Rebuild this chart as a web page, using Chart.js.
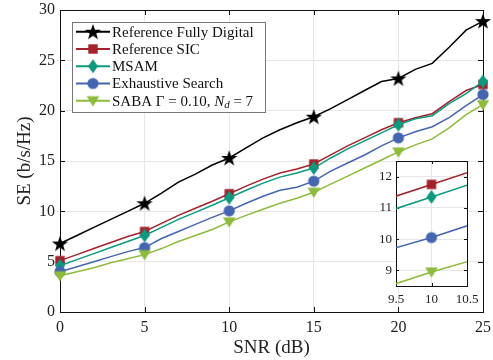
<!DOCTYPE html>
<html>
<head>
<meta charset="utf-8">
<script src="https://cdn.jsdelivr.net/npm/chart.js@4"></script>
<style>
  html, body { margin: 0; padding: 0; background: #fff; }
  #wrap { position: relative; width: 493px; height: 360px; }
  #mainChart { position: absolute; left: 0; top: 0; }
  #insetChart { position: absolute; left: 365px; top: 150px; }
</style>
</head>
<body>
<div id="wrap">
  <canvas id="mainChart" width="493" height="360"></canvas>
  <canvas id="insetChart" width="128" height="175"></canvas>
</div>
<script>
// SNR values (dB)
const snr = [0, 1, 2, 3, 4, 5, 6, 7, 8, 9, 10, 11, 12, 13, 14, 15, 16, 17, 18, 19, 20, 21, 22, 23, 24, 25];

// spectral efficiency per scheme (b/s/Hz)
const fullyDigital = [6.8, 7.6, 8.4, 9.2, 10.0, 10.8, 11.8, 12.9, 13.7, 14.6, 15.3, 16.3, 17.3, 18.1, 18.8, 19.4, 20.2, 21.1, 22.0, 22.9, 23.2, 24.1, 24.7, 26.3, 28.0, 28.9];
const refSIC = [5.1, 5.7, 6.3, 6.9, 7.5, 8.0, 8.8, 9.6, 10.3, 11.0, 11.75, 12.5, 13.2, 13.8, 14.2, 14.7, 15.6, 16.5, 17.3, 18.1, 18.8, 19.3, 19.7, 20.9, 22.0, 22.6];
const msam = [4.6, 5.2, 5.8, 6.4, 7.0, 7.6, 8.4, 9.2, 9.9, 10.6, 11.35, 12.1, 12.8, 13.4, 13.8, 14.3, 15.3, 16.2, 17.0, 17.8, 18.6, 19.2, 19.5, 20.7, 21.7, 22.9];
const exhaustive = [4.0, 4.5, 5.0, 5.5, 6.0, 6.4, 7.3, 8.0, 8.7, 9.4, 10.05, 10.8, 11.5, 12.1, 12.4, 13.0, 14.0, 14.8, 15.6, 16.5, 17.3, 17.9, 18.4, 19.3, 20.5, 21.6];
const saba = [3.6, 4.0, 4.4, 4.9, 5.3, 5.7, 6.3, 7.0, 7.6, 8.2, 8.95, 9.6, 10.2, 10.8, 11.3, 11.9, 12.7, 13.5, 14.3, 15.1, 15.9, 16.6, 17.2, 18.3, 19.6, 20.6];

const xTicks = [0, 5, 10, 15, 20, 25];
const yTicks = [0, 5, 10, 15, 20, 25, 30];
const insetXTicks = [9.5, 10, 10.5];
const insetYTicks = [9, 10, 11, 12];

const FONT = '"Liberation Serif", "DejaVu Serif", serif';

// marker images
function makeMarker(kind, color) {
  const c = document.createElement('canvas');
  const s = kind === 'star' ? 18 : 16;
  c.width = s; c.height = s;
  const g = c.getContext('2d');
  g.fillStyle = color;
  const m = s / 2;
  g.beginPath();
  if (kind === 'star') {
    const ro = 8.5, ri = 3.4;
    for (let i = 0; i < 10; i++) {
      const r = i % 2 === 0 ? ro : ri;
      const a = -Math.PI / 2 + i * Math.PI / 5;
      const px = m + r * Math.cos(a), py = m + 0.7 + r * Math.sin(a);
      if (i === 0) g.moveTo(px, py); else g.lineTo(px, py);
    }
  } else if (kind === 'square') {
    g.rect(m - 4.7, m - 4.7, 9.4, 9.4);
  } else if (kind === 'diamond') {
    g.moveTo(m, m - 7); g.lineTo(m + 5, m); g.lineTo(m, m + 7); g.lineTo(m - 5, m);
  } else if (kind === 'circle') {
    g.arc(m, m, 5.6, 0, Math.PI * 2);
  } else if (kind === 'triangle') {
    g.moveTo(m - 6.3, m - 4.5); g.lineTo(m + 6.3, m - 4.5); g.lineTo(m, m + 5.8);
  }
  g.closePath();
  g.fill();
  return c;
}

const series = [
  { label: 'Reference Fully Digital', values: fullyDigital, color: '#000000', marker: 'star' },
  { label: 'Reference SIC', values: refSIC, color: '#A3222B', marker: 'square' },
  { label: 'MSAM', values: msam, color: '#0B9A7E', marker: 'diamond' },
  { label: 'Exhaustive Search', values: exhaustive, color: '#4466B1', marker: 'circle' },
  { label: 'SABA', values: saba, color: '#8DBB3C', marker: 'triangle' }
];
series.forEach(s => { s.img = makeMarker(s.marker, s.color); });

function buildDatasets(clip) {
  return series.map(s => ({
    label: s.label,
    data: snr.map((x, i) => ({ x: x, y: s.values[i] })),
    borderColor: s.color,
    backgroundColor: s.color,
    borderWidth: 1.5,
    tension: 0,
    pointStyle: s.img,
    pointRadius: ctx => (ctx.raw && ctx.raw.x % 5 === 0 ? 5 : 0),
    clip: clip
  })).reverse();
}

// white plot area, black box and inward tick marks
const framePlugin = {
  id: 'frame',
  beforeDraw(chart) {
    const a = chart.chartArea, ctx = chart.ctx;
    ctx.save();
    ctx.fillStyle = '#ffffff';
    ctx.fillRect(a.left, a.top, a.right - a.left, a.bottom - a.top);
    ctx.restore();
  },
  beforeDatasetsDraw(chart, args, opts) {
    const a = chart.chartArea, ctx = chart.ctx;
    const len = opts.tickLen || 5;
    ctx.save();
    ctx.strokeStyle = '#111';
    ctx.lineWidth = 1;
    ctx.beginPath();
    chart.scales.x.ticks.forEach(t => {
      const px = Math.round(chart.scales.x.getPixelForValue(t.value)) + 0.5;
      ctx.moveTo(px, a.bottom); ctx.lineTo(px, a.bottom - len);
      ctx.moveTo(px, a.top); ctx.lineTo(px, a.top + len);
    });
    chart.scales.y.ticks.forEach(t => {
      const py = Math.round(chart.scales.y.getPixelForValue(t.value)) + 0.5;
      ctx.moveTo(a.left, py); ctx.lineTo(a.left + len, py);
      ctx.moveTo(a.right, py); ctx.lineTo(a.right - len, py);
    });
    ctx.stroke();
    ctx.strokeRect(Math.round(a.left) + 0.5, Math.round(a.top) + 0.5,
      Math.round(a.right - a.left), Math.round(a.bottom - a.top));
    ctx.restore();
  }
};

// legend box in the upper left corner
const legendPlugin = {
  id: 'boxLegend',
  afterDraw(chart) {
    const ctx = chart.ctx;
    const bx = 72, by = 22, bw = 193, bh = 90;
    ctx.save();
    ctx.fillStyle = '#fff';
    ctx.fillRect(bx, by, bw, bh);
    ctx.strokeStyle = '#777';
    ctx.lineWidth = 1;
    ctx.strokeRect(bx + 0.5, by + 0.5, bw, bh);
    series.forEach((s, i) => {
      const y = 31.7 + i * 17.25;
      ctx.strokeStyle = s.color;
      ctx.lineWidth = 2;
      ctx.beginPath();
      ctx.moveTo(76, y); ctx.lineTo(110, y);
      ctx.stroke();
      ctx.drawImage(s.img, 93 - s.img.width / 2, y - s.img.height / 2);
      ctx.fillStyle = '#111';
      ctx.textBaseline = 'middle';
      let x = 112;
      if (i < 4) {
        ctx.font = '15px ' + FONT;
        ctx.fillText(s.label, x, y + 1);
      } else {
        const parts = [
          ['SABA \u0393 = 0.10, ', '15px ' + FONT, 0],
          ['N', 'italic 15px ' + FONT, 0],
          ['d', 'italic 11px ' + FONT, 3],
          [' = 7', '15px ' + FONT, 0]
        ];
        parts.forEach(p => {
          ctx.font = p[1];
          ctx.fillText(p[0], x, y + 1 + p[2]);
          x += ctx.measureText(p[0]).width;
        });
      }
    });
    ctx.restore();
  }
};

const gridColor = '#e6e6e6';

new Chart(document.getElementById('mainChart').getContext('2d'), {
  type: 'line',
  data: { datasets: buildDatasets(false) },
  options: {
    responsive: false,
    animation: false,
    events: [],
    layout: { padding: { top: 10, right: 10, left: 0, bottom: 0 } },
    plugins: { legend: { display: false }, tooltip: { enabled: false }, frame: { tickLen: 5 } },
    scales: {
      x: {
        type: 'linear', min: 0, max: 25,
        afterBuildTicks: sc => { sc.ticks = xTicks.map(v => ({ value: v })); },
        afterFit: sc => { sc.height = 48; sc.paddingLeft = 0; sc.paddingRight = 0; },
        grid: { color: gridColor, drawTicks: false },
        border: { display: false },
        ticks: { color: '#222', font: { family: FONT, size: 16 }, padding: 6, maxRotation: 0 },
        title: { display: true, text: 'SNR (dB)', color: '#222', font: { family: FONT, size: 19 }, padding: { top: 0, bottom: 1 } }
      },
      y: {
        min: 0, max: 30,
        afterBuildTicks: sc => { sc.ticks = yTicks.map(v => ({ value: v })); },
        afterFit: sc => { sc.width = 60; sc.paddingTop = 0; sc.paddingBottom = 0; },
        grid: { color: gridColor, drawTicks: false },
        border: { display: false },
        ticks: { color: '#222', font: { family: FONT, size: 16 }, padding: 5 },
        title: { display: true, text: 'SE (b/s/Hz)', color: '#222', font: { family: FONT, size: 19 }, padding: { top: 14, bottom: 0 } }
      }
    }
  },
  plugins: [framePlugin, legendPlugin]
});

new Chart(document.getElementById('insetChart').getContext('2d'), {
  type: 'line',
  data: { datasets: buildDatasets(0) },
  options: {
    responsive: false,
    animation: false,
    events: [],
    layout: { padding: { top: 11, right: 26, left: 0, bottom: 0 } },
    plugins: { legend: { display: false }, tooltip: { enabled: false }, frame: { tickLen: 3 } },
    scales: {
      x: {
        type: 'linear', min: 9.5, max: 10.5,
        afterBuildTicks: sc => { sc.ticks = insetXTicks.map(v => ({ value: v })); },
        afterFit: sc => { sc.height = 39; sc.paddingLeft = 0; sc.paddingRight = 0; },
        grid: { color: gridColor, drawTicks: false },
        border: { display: false },
        ticks: { color: '#222', font: { family: FONT, size: 13 }, padding: 6, maxRotation: 0, callback: v => String(v) }
      },
      y: {
        min: 8.5, max: 12.5,
        afterBuildTicks: sc => { sc.ticks = insetYTicks.map(v => ({ value: v })); },
        afterFit: sc => { sc.width = 31; sc.paddingTop = 0; sc.paddingBottom = 0; },
        grid: { color: gridColor, drawTicks: false },
        border: { display: false },
        ticks: { color: '#222', font: { family: FONT, size: 13 }, padding: 4, callback: v => String(v) }
      }
    }
  },
  plugins: [framePlugin]
});
</script>
</body>
</html>
